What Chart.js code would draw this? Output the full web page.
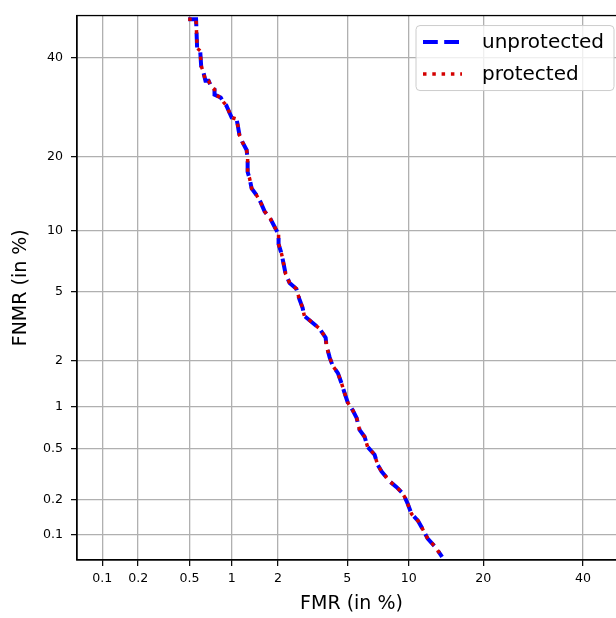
<!DOCTYPE html>
<html>
<head>
<meta charset="utf-8">
<script src="https://cdn.jsdelivr.net/npm/chart.js@4/dist/chart.umd.min.js"></script>
<style>
  html, body { margin: 0; padding: 0; overflow: hidden; background: #fff; }
  #wrap { width: 640px; height: 618px; }
</style>
</head>
<body>
<div id="wrap"><canvas id="detChart" width="640" height="618"></canvas></div>
<script>
// --- Data (percent) ---
const fmrUnprotected = [0.49, 0.56, 0.57, 0.60, 0.61, 0.63, 0.655, 0.69, 0.72, 0.76, 0.76, 0.84, 0.88, 0.92, 0.965, 1.0, 1.08, 1.10, 1.13, 1.18, 1.26, 1.28, 1.28, 1.32, 1.36, 1.46, 1.55, 1.65, 1.80, 1.90, 2.02, 2.02, 2.11, 2.17, 2.23, 2.36, 2.59, 2.70, 2.82, 2.89, 3.22, 3.53, 3.82, 3.86, 4.02, 4.17, 4.46, 4.67, 4.85, 5.03, 5.34, 5.60, 5.80, 6.15, 6.37, 6.90, 7.14, 7.47, 8.17, 8.80, 9.29, 9.60, 9.90, 10.3, 11.0, 11.5, 12.1, 13.0, 13.9];
const fnmrUnprotected = [49.1, 49.1, 42.3, 41.7, 38.2, 37.1, 34.9, 34.9, 33.6, 33.0, 31.9, 31.3, 30.3, 29.6, 28.2, 27.2, 26.9, 25.7, 23.8, 22.6, 21.2, 19.7, 17.6, 16.6, 15.2, 14.3, 13.4, 12.2, 11.3, 10.5, 9.64, 8.70, 7.79, 6.97, 6.22, 5.58, 5.20, 4.58, 4.10, 3.69, 3.38, 3.13, 2.77, 2.48, 2.10, 1.87, 1.67, 1.43, 1.23, 1.07, 0.946, 0.834, 0.686, 0.611, 0.515, 0.449, 0.378, 0.334, 0.279, 0.251, 0.228, 0.208, 0.183, 0.151, 0.132, 0.113, 0.093, 0.079, 0.064];
const fmrProtected = [0.49, 0.56, 0.57, 0.60, 0.61, 0.63, 0.655, 0.69, 0.72, 0.76, 0.76, 0.84, 0.88, 0.92, 0.965, 1.0, 1.08, 1.10, 1.13, 1.18, 1.26, 1.28, 1.28, 1.32, 1.36, 1.46, 1.55, 1.65, 1.80, 1.90, 2.02, 2.02, 2.11, 2.17, 2.23, 2.36, 2.59, 2.70, 2.82, 2.89, 3.22, 3.53, 3.82, 3.86, 4.02, 4.17, 4.46, 4.67, 4.85, 5.03, 5.34, 5.60, 5.80, 6.15, 6.37, 6.90, 7.14, 7.47, 8.17, 8.80, 9.29, 9.60, 9.90, 10.3, 11.0, 11.5, 12.1, 13.0, 13.9];
const fnmrProtected = [49.1, 49.1, 42.3, 41.7, 38.2, 37.1, 34.9, 34.9, 33.6, 33.0, 31.9, 31.3, 30.3, 29.6, 28.2, 27.2, 26.9, 25.7, 23.8, 22.6, 21.2, 19.7, 17.6, 16.6, 15.2, 14.3, 13.4, 12.2, 11.3, 10.5, 9.64, 8.70, 7.79, 6.97, 6.22, 5.58, 5.20, 4.58, 4.10, 3.69, 3.38, 3.13, 2.77, 2.48, 2.10, 1.87, 1.67, 1.43, 1.23, 1.07, 0.946, 0.834, 0.686, 0.611, 0.515, 0.449, 0.378, 0.334, 0.279, 0.251, 0.228, 0.208, 0.183, 0.151, 0.132, 0.113, 0.093, 0.079, 0.064];

const xTicks = [0.1, 0.2, 0.5, 1, 2, 5, 10, 20, 40];
const yTicks = [0.1, 0.2, 0.5, 1, 2, 5, 10, 20, 40];

const FONT = 'DejaVu Sans';

// --- probit helpers (Acklam inverse normal) ---
function probit(p) {
    const a = [-3.969683028665376e+01, 2.209460984245205e+02, -2.759285104469687e+02, 1.383577518672690e+02, -3.066479806614716e+01, 2.506628277459239e+00];
    const b = [-5.447609879822406e+01, 1.615858368580409e+02, -1.556989798598866e+02, 6.680131188771972e+01, -1.328068155288572e+01];
    const c = [-7.784894002430293e-03, -3.223964580411365e-01, -2.400758277161838e+00, -2.549732539343734e+00, 4.374664141464968e+00, 2.938163982698783e+00];
    const d = [7.784695709041462e-03, 3.224671290700398e-01, 2.445134137142996e+00, 3.754408661907416e+00];
    const plow = 0.02425;
    if (p <= 0) return -Infinity;
    if (p >= 1) return Infinity;
    if (p < plow) {
        const q = Math.sqrt(-2 * Math.log(p));
        return (((((c[0]*q+c[1])*q+c[2])*q+c[3])*q+c[4])*q+c[5]) / ((((d[0]*q+d[1])*q+d[2])*q+d[3])*q+1);
    }
    if (p <= 1 - plow) {
        const q = p - 0.5, r = q * q;
        return (((((a[0]*r+a[1])*r+a[2])*r+a[3])*r+a[4])*r+a[5])*q / (((((b[0]*r+b[1])*r+b[2])*r+b[3])*r+b[4])*r+1);
    }
    const q = Math.sqrt(-2 * Math.log(1 - p));
    return -(((((c[0]*q+c[1])*q+c[2])*q+c[3])*q+c[4])*q+c[5]) / ((((d[0]*q+d[1])*q+d[2])*q+d[3])*q+1);
}

function normCdf(z) {
    // Abramowitz-Stegun erf
    const x = Math.abs(z) / Math.SQRT2;
    const t = 1 / (1 + 0.3275911 * x);
    const y = 1 - (((((1.061405429*t - 1.453152027)*t) + 1.421413741)*t - 0.284496736)*t + 0.254829592)*t*Math.exp(-x*x);
    return z >= 0 ? 0.5 * (1 + y) : 0.5 * (1 - y);
}

// --- custom probit scale (values in %) ---
class ProbitScale extends Chart.Scale {
    determineDataLimits() {
        const { min, max } = this.getMinMax(true);
        this.min = Number.isFinite(this.options.min) ? this.options.min : min;
        this.max = Number.isFinite(this.options.max) ? this.options.max : max;
    }
    buildTicks() {
        const vals = this.options.tickValues || [];
        return vals.filter(v => v >= this.min && v <= this.max).map(v => ({ value: v }));
    }
    getLabelForValue(value) {
        return String(value);
    }
    configure() {
        super.configure();
        this._pStart = probit(this.min / 100);
        this._pRange = probit(this.max / 100) - this._pStart;
    }
    getPixelForValue(value) {
        if (value === undefined || value === null || isNaN(value)) return NaN;
        return this.getPixelForDecimal((probit(value / 100) - this._pStart) / this._pRange);
    }
    getValueForPixel(pixel) {
        return 100 * normCdf(this._pStart + this.getDecimalForPixel(pixel) * this._pRange);
    }
}
ProbitScale.id = 'probit';
ProbitScale.defaults = {};
Chart.register(ProbitScale);

// frame around the plot (top / right spines)
const framePlugin = {
    id: 'frame',
    afterDatasetsDraw(chart) {
        const { ctx, chartArea: a } = chart;
        ctx.save();
        ctx.strokeStyle = '#000';
        ctx.lineWidth = 1.3;
        ctx.strokeRect(a.left, a.top, a.right - a.left, a.bottom - a.top);
        ctx.restore();
    }
};

// matplotlib-like boxed legend in the upper right corner
const boxLegendPlugin = {
    id: 'boxLegend',
    afterDraw(chart) {
        const { ctx, chartArea: a } = chart;
        const w = 198, h = 65;
        const x0 = a.right - 12 - w, y0 = a.top + 10;
        ctx.save();
        ctx.beginPath();
        ctx.roundRect(x0, y0, w, h, 4);
        ctx.fillStyle = 'rgba(255,255,255,0.8)';
        ctx.fill();
        ctx.strokeStyle = '#cccccc';
        ctx.lineWidth = 1;
        ctx.stroke();
        chart.data.datasets.forEach((ds, i) => {
            const y = y0 + 16.5 + i * 32;
            ctx.beginPath();
            ctx.strokeStyle = ds.borderColor;
            ctx.lineWidth = ds.borderWidth;
            ctx.lineCap = 'butt';
            ctx.setLineDash(ds.borderDash || []);
            ctx.moveTo(x0 + 7, y);
            ctx.lineTo(x0 + 46, y);
            ctx.stroke();
            ctx.setLineDash([]);
            ctx.fillStyle = '#000';
            ctx.font = '20px "' + FONT + '"';
            ctx.textBaseline = 'middle';
            ctx.fillText(ds.label, x0 + 66, y + 1);
        });
        ctx.restore();
    }
};

const toPoints = (xs, ys) => xs.map((x, i) => ({ x: x, y: ys[i] }));

new Chart(document.getElementById('detChart'), {
    type: 'line',
    data: {
        datasets: [
            {
                label: 'unprotected',
                data: toPoints(fmrUnprotected, fnmrUnprotected),
                borderColor: '#0000ff',
                borderWidth: 4,
                borderDash: [14.8, 6.4],
                pointRadius: 0,
                tension: 0,
                clip: 0,
                order: 2
            },
            {
                label: 'protected',
                data: toPoints(fmrProtected, fnmrProtected),
                borderColor: '#d40000',
                borderWidth: 3.5,
                borderDash: [3.5, 5.8],
                pointRadius: 0,
                tension: 0,
                clip: 0,
                order: 1
            }
        ]
    },
    options: {
        responsive: false,
        animation: false,
        layout: { padding: { left: 0, top: 13, right: 14, bottom: 0 } },
        plugins: { legend: { display: false }, tooltip: { enabled: false } },
        scales: {
            x: {
                type: 'probit',
                position: 'bottom',
                min: 0.06,
                max: 50,
                tickValues: xTicks,
                afterFit: s => { s.height = 58; },
                grid: { color: '#b0b0b0', lineWidth: 1.3, tickColor: '#000', tickLength: 6, tickWidth: 1.2 },
                border: { color: '#000', width: 1.3 },
                ticks: { autoSkip: false, maxRotation: 0, color: '#000', padding: 5, font: { family: FONT, size: 12.6 } },
                title: { display: true, text: 'FMR (in %)', color: '#000', font: { family: FONT, size: 19 }, padding: { top: 0, bottom: 3 } }
            },
            y: {
                type: 'probit',
                position: 'left',
                min: 0.06,
                max: 50,
                tickValues: yTicks,
                afterFit: s => { s.width = 77; },
                grid: { color: '#b0b0b0', lineWidth: 1.3, tickColor: '#000', tickLength: 6, tickWidth: 1.2 },
                border: { color: '#000', width: 1.3 },
                ticks: { autoSkip: false, color: '#000', padding: 8, font: { family: FONT, size: 12.6 } },
                title: { display: true, text: 'FNMR (in %)', color: '#000', font: { family: FONT, size: 19 }, padding: { top: 10, bottom: 0 } }
            }
        }
    },
    plugins: [framePlugin, boxLegendPlugin]
});
</script>
</body>
</html>
